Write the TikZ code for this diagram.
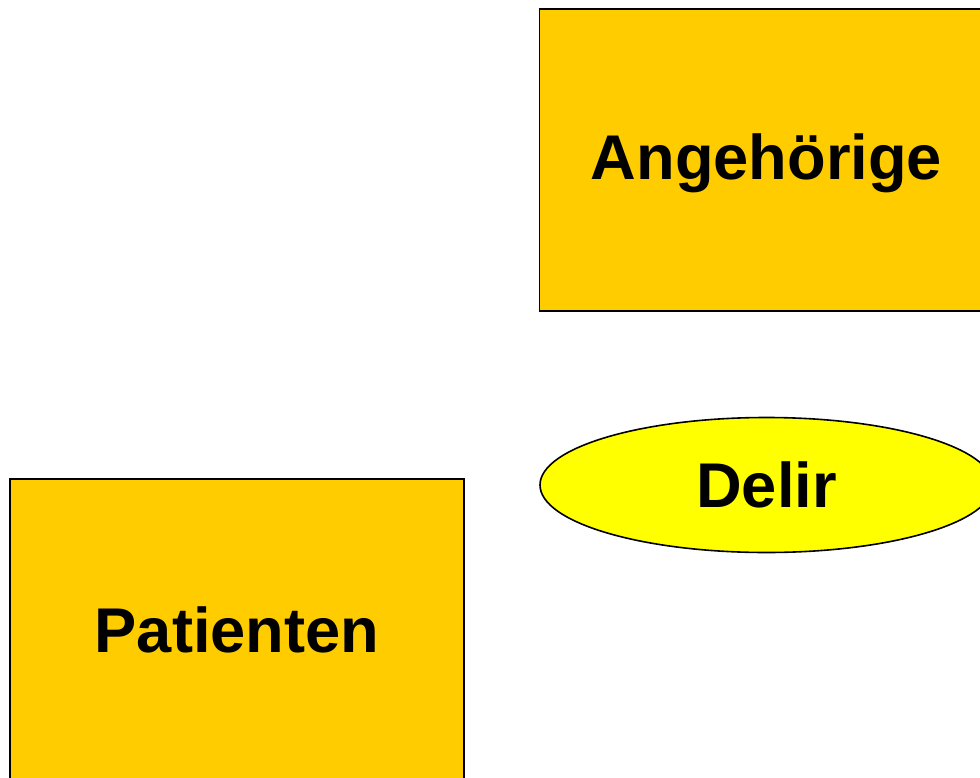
\documentclass[tikz,border=0pt]{standalone}
\usepackage{fontspec}
\setmainfont{Liberation Sans}
\usetikzlibrary{shapes.geometric}
\definecolor{boxgold}{HTML}{FFCC00}
\definecolor{delyellow}{HTML}{FFFF00}
\begin{document}
\begin{tikzpicture}[x=0.75pt,y=-0.75pt,
  label text/.style={font=\fontsize{47.4}{52}\selectfont\bfseries},
  groupbox/.style={draw=black,line width=1.4pt,fill=boxgold,inner sep=0pt,
    minimum width=340.5pt,minimum height=227pt,label text},
  topic/.style={ellipse,draw=black,line width=1.2pt,fill=delyellow,inner sep=0pt,
    minimum width=339.75pt,minimum height=101.25pt,label text}]
\useasboundingbox (0,0) rectangle (980,777);
\clip (0,0) rectangle (980,777);
\node[groupbox,label={[label text,yshift=-2.8pt,inner sep=0pt]center:Angehörige}] (angeh) at (766.5,160) {};
\node[topic] (delir) at (766.5,485) {Delir};
\node[groupbox] (pat) at (237,630) {Patienten};
\end{tikzpicture}
\end{document}
